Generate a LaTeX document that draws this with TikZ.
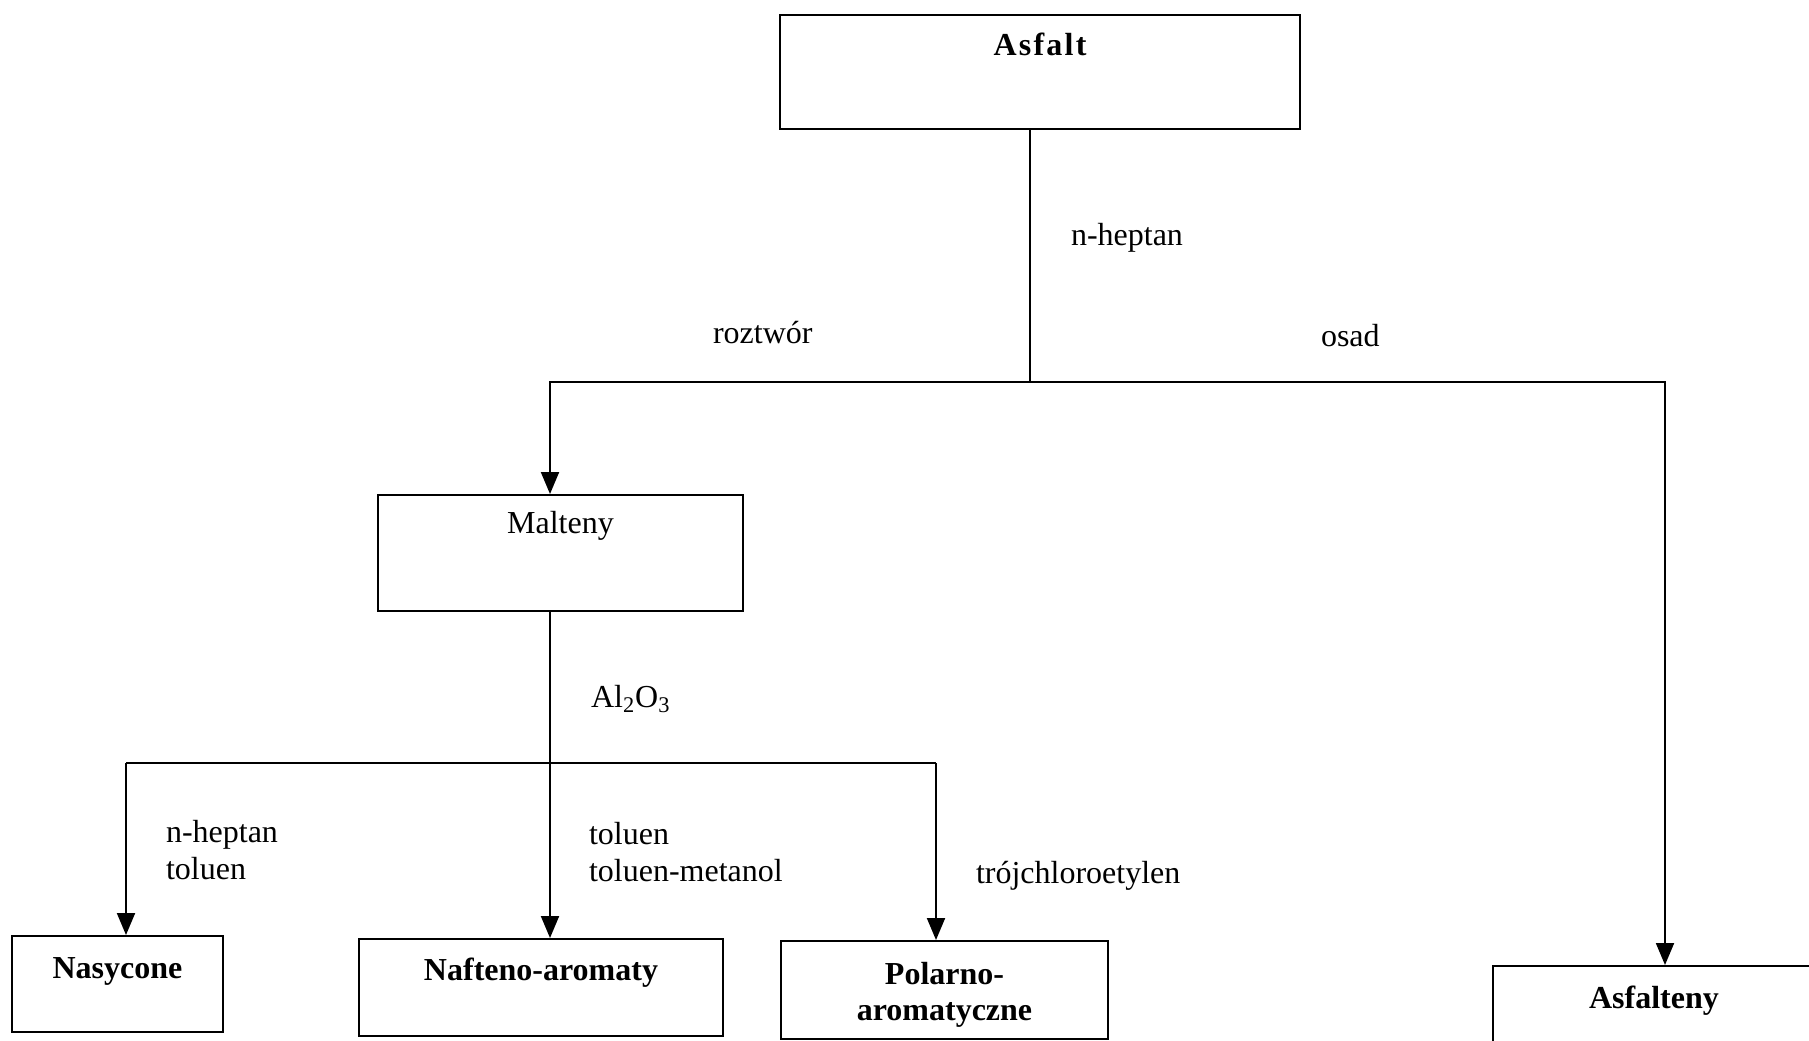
\documentclass[tikz,border=0pt]{standalone}
\usepackage{fontspec}
\setmainfont{Liberation Serif}
\usetikzlibrary{arrows.meta}

\begin{document}
\begin{tikzpicture}[x=0.5pt,y=-0.5pt,
    line width=1pt,
    every node/.style={font=\fontsize{16}{18.5}\selectfont, inner sep=0pt},
    box/.style={draw, anchor=north, align=center},
    head/.style={font=\fontsize{16}{18}\selectfont\bfseries},
    note/.style={anchor=west, align=left},
    arr/.style={-{Triangle[length=11pt,width=9pt]}}]
  \useasboundingbox (0,0) rectangle (1809,1040);

  % boxes
  \node[box, head, minimum width=260pt, text height=20pt, text depth=37pt] (asfalt) at (1040,14) {\addfontfeature{LetterSpace=7}Asfalt};
  \node[box, minimum width=182.5pt, text height=19pt, text depth=39pt] (malteny) at (560.5,494) {Malteny};
  \node[box, head, minimum width=105.5pt, text height=21pt, text depth=27pt] (nasycone) at (117.5,935) {Nasycone};
  \node[box, head, minimum width=182pt, text height=20.5pt, text depth=28pt] (nafteno) at (541,938) {Nafteno-aromaty};
  \node[box, head, minimum width=163.5pt, text height=39.5pt, text depth=9.5pt] (polarno) at (944.5,940) {Polarno-\\aromatyczne};
  \node[box, head, minimum width=161pt, text height=21pt, text depth=27pt] (asfalteny) at (1654,965) {Asfalteny};

  % first split
  \coordinate (split1) at (1030,382);
  \coordinate (split1l) at (550,382);
  \coordinate (split1r) at (1665,382);
  \draw (asfalt.south -| split1) -- (split1);
  \draw[arr] (split1) -- (split1l) -- (malteny.north -| split1l);
  \draw[arr] (split1) -- (split1r) -- (asfalteny.north -| split1r);

  % second split
  \coordinate (split2) at (550,763);
  \coordinate (split2l) at (126,763);
  \coordinate (split2r) at (936,763);
  \draw (malteny.south -| split2) -- (split2);
  \draw (split2l) -- (split2r);
  \draw[arr] (split2) -- (nafteno.north -| split2);
  \draw[arr] (split2l) -- (nasycone.north -| split2l);
  \draw[arr] (split2r) -- (polarno.north -| split2r);

  % labels
  \node[note] (heptan) at (1070,238) {n-heptan};
  \node[note] (roztwor) at (712,333) {roztwór};
  \node[note] (osad) at (1320,336) {osad};
  \node[note] (al) at (590,699) {Al\textsubscript{2}O\textsubscript{3}};
  \node[note] (eluent1) at (165,850) {n-heptan\\toluen};
  \node[note] (eluent2) at (588,852) {toluen\\toluen-metanol};
  \node[note] (eluent3) at (975,876) {trójchloroetylen};
\end{tikzpicture}
\end{document}
